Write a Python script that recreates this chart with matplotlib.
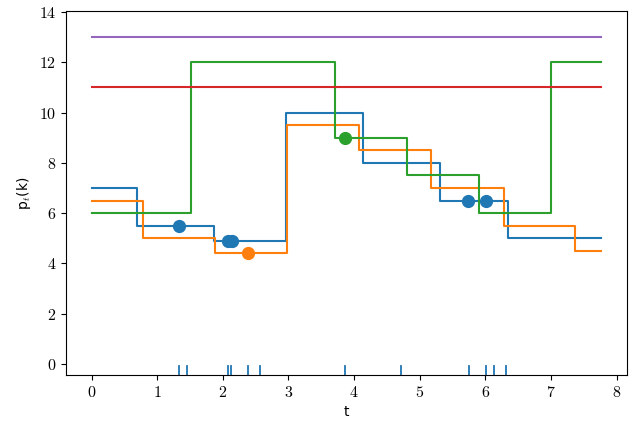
import numpy as np
import matplotlib
matplotlib.use('Agg')
import matplotlib.pyplot as plt
from matplotlib.ticker import FuncFormatter

plt.rcParams['mathtext.fontset'] = 'cm'

# step curves p_t(k), values hold until next change time
blue_t = [0.0, 0.69, 1.87, 2.96, 4.13, 5.31, 6.34, 7.77]
blue_p = [7.0, 5.5, 4.9, 10.0, 8.0, 6.5, 5.0, 5.0]

orange_t = [0.0, 0.785, 1.88, 2.985, 4.08, 5.175, 6.28, 7.375, 7.77]
orange_p = [6.5, 5.0, 4.4, 9.5, 8.5, 7.0, 5.5, 4.5, 4.5]

green_t = [0.0, 1.52, 3.71, 4.81, 5.91, 7.0, 7.77]
green_p = [6.0, 12.0, 9.0, 7.5, 6.0, 12.0, 12.0]

red_t = [0.0, 7.77]
red_p = [11.0, 11.0]
purple_t = [0.0, 7.77]
purple_p = [13.0, 13.0]

# observed events
blue_ev_t = [1.33, 2.085, 2.14, 5.74, 6.01]
blue_ev_p = [5.5, 4.9, 4.9, 6.5, 6.5]
orange_ev_t = [2.38]
orange_ev_p = [4.4]
green_ev_t = [3.855]
green_ev_p = [9.0]

# rug of event times
rug_t = [1.333, 1.461, 2.078, 2.128, 2.378, 2.561, 3.856, 4.722,
         5.756, 6.011, 6.139, 6.322]

fig, ax = plt.subplots(figsize=(6.44, 4.24), dpi=100)
fig.subplots_adjust(left=0.1025, right=0.9736, top=0.974, bottom=0.1156)

ax.step(blue_t, blue_p, where='post', color='C0')
ax.step(orange_t, orange_p, where='post', color='C1')
ax.step(green_t, green_p, where='post', color='C2')
ax.step(red_t, red_p, where='post', color='C3')
ax.step(purple_t, purple_p, where='post', color='C4')

ax.plot(blue_ev_t, blue_ev_p, 'o', color='C0', ms=8.5)
ax.plot(orange_ev_t, orange_ev_p, 'o', color='C1', ms=8.5)
ax.plot(green_ev_t, green_ev_p, 'o', color='C2', ms=8.5)

# rug at bottom of axes
trans = ax.get_xaxis_transform()
for t in rug_t:
    ax.plot([t, t], [0, 0.025], color='C0', lw=1.3, transform=trans)

ax.set_xlim(-0.39, 8.16)
ax.set_ylim(-0.44, 14.04)
ax.set_xticks(range(0, 9))
ax.set_yticks(range(0, 15, 2))
fmt = FuncFormatter(lambda v, p: f'${v:g}$')
ax.xaxis.set_major_formatter(fmt)
ax.yaxis.set_major_formatter(fmt)
ax.tick_params(labelsize=11.5)

ax.set_xlabel('t')
ax.set_ylabel(r'p$_t$(k)')

fig.savefig('out.png', dpi=100)
